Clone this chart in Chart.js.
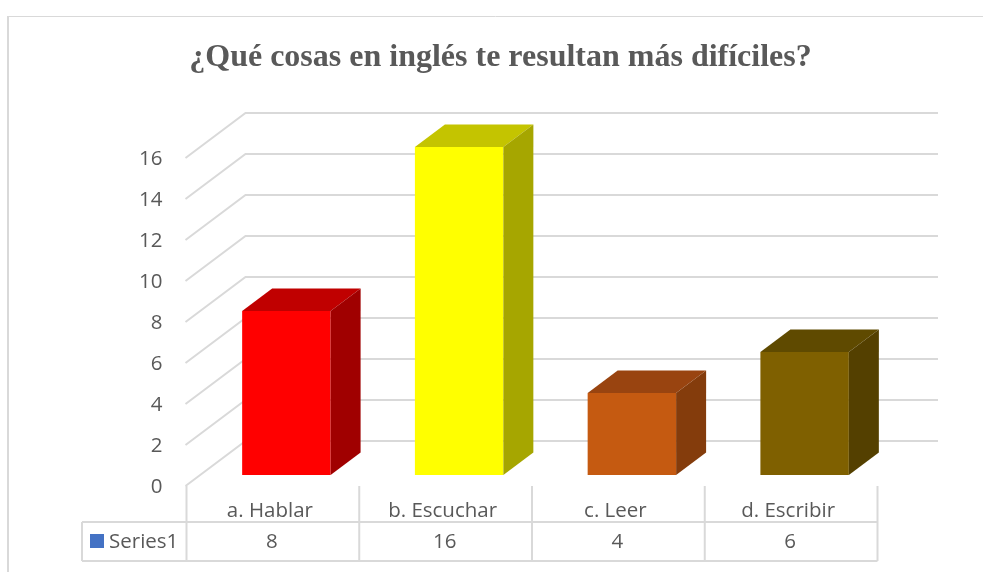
<!DOCTYPE html>
<html lang="es">
<head>
<meta charset="utf-8">
<title>¿Qué cosas en inglés te resultan más difíciles?</title>
<script src="https://cdn.jsdelivr.net/npm/chart.js@4"></script>
<style>
    html, body { margin: 0; padding: 0; background: #fff; }
    canvas { display: block; }
</style>
</head>
<body>
<canvas id="myChart" width="983" height="572"></canvas>
<script>
    /* datos */
    const titleText = '¿Qué cosas en inglés te resultan más difíciles?';
    const categories = ['a. Hablar', 'b. Escuchar', 'c. Leer', 'd. Escribir'];
    const seriesName = 'Series1';
    const seriesValues = [8, 16, 4, 6];
    const tickStep = 2;
    const tickMax = 16;

    /* colores de cada barra: frente, tapa, lado */
    const frontColors = ['#ff0000', '#ffff00', '#c55a11', '#7f6000'];
    const topColors = ['#c00000', '#c4c400', '#994410', '#5f4a00'];
    const sideColors = ['#a00000', '#a6a600', '#843c0c', '#544000'];

    const gridColor = '#d9d9d9';
    const textColor = '#595959';
    const uiFont = '"Open Sans", sans-serif';

    /* falso 3D */
    const wallDx = 59, wallDy = -45;    // fondo de la pared
    const barDx = 13.5, barDy = -11;    // barra dentro del piso
    const barDepthX = 30, barDepthY = -22.4;
    const gridRight = 938;

    const wallPlugin = {
        id: 'wallPlugin',
        beforeDatasetsDraw(chart) {
            const ctx = chart.ctx, y = chart.scales.y;
            ctx.save();
            ctx.strokeStyle = gridColor;
            ctx.lineWidth = 2;
            y.ticks.forEach(t => {
                const py = y.getPixelForValue(t.value);
                ctx.beginPath();
                ctx.moveTo(y.right - 1, py);
                ctx.lineTo(y.right + wallDx, py + wallDy);
                ctx.lineTo(gridRight, py + wallDy);
                ctx.stroke();
            });
            ctx.restore();
        }
    };

    const box3dPlugin = {
        id: 'box3dPlugin',
        beforeDatasetDraw(chart) {
            chart.ctx.save();
            chart.ctx.translate(barDx, barDy);
        },
        afterDatasetDraw(chart, args) {
            const ctx = chart.ctx;
            args.meta.data.forEach((bar, i) => {
                const left = bar.x - bar.width / 2, right = bar.x + bar.width / 2;
                // tapa
                ctx.fillStyle = topColors[i];
                ctx.beginPath();
                ctx.moveTo(left, bar.y);
                ctx.lineTo(left + barDepthX, bar.y + barDepthY);
                ctx.lineTo(right + barDepthX, bar.y + barDepthY);
                ctx.lineTo(right, bar.y);
                ctx.closePath();
                ctx.fill();
                // lado
                ctx.fillStyle = sideColors[i];
                ctx.beginPath();
                ctx.moveTo(right, bar.y);
                ctx.lineTo(right + barDepthX, bar.y + barDepthY);
                ctx.lineTo(right + barDepthX, bar.base + barDepthY);
                ctx.lineTo(right, bar.base);
                ctx.closePath();
                ctx.fill();
            });
            ctx.restore();
        }
    };

    /* tabla de datos debajo del eje, y marco del gráfico */
    const tablePlugin = {
        id: 'tablePlugin',
        afterDraw(chart) {
            const ctx = chart.ctx, x = chart.scales.x;
            const tableTop = 522, tableBottom = 561, tableLeft = 82;
            const band = (x.right - x.left) / categories.length;
            ctx.save();
            ctx.strokeStyle = gridColor;

            // marco
            ctx.lineWidth = 2;
            ctx.beginPath();
            ctx.moveTo(8, 572);
            ctx.lineTo(8, 16);
            ctx.stroke();
            ctx.lineWidth = 1;
            ctx.beginPath();
            ctx.moveTo(8, 16.5);
            ctx.lineTo(983, 16.5);
            ctx.stroke();

            ctx.lineWidth = 2;
            ctx.beginPath();
            ctx.moveTo(tableLeft, tableTop);
            ctx.lineTo(x.right, tableTop);
            ctx.moveTo(tableLeft, tableBottom);
            ctx.lineTo(x.right, tableBottom);
            ctx.moveTo(tableLeft, tableTop);
            ctx.lineTo(tableLeft, tableBottom);
            for (let i = 0; i <= categories.length; i++) {
                ctx.moveTo(x.left + band * i, x.top);
                ctx.lineTo(x.left + band * i, tableBottom);
            }
            ctx.stroke();

            // leyenda
            ctx.fillStyle = '#4472c4';
            ctx.fillRect(90, 534, 14, 14);
            ctx.fillStyle = textColor;
            ctx.font = '20.5px ' + uiFont;
            ctx.textBaseline = 'middle';
            ctx.textAlign = 'left';
            ctx.fillText(seriesName, 109, 542);

            // valores
            ctx.textAlign = 'center';
            seriesValues.forEach((v, i) => {
                ctx.fillText(String(v), x.getPixelForTick(i) - 1, 542);
            });
            ctx.restore();
        }
    };

    new Chart(document.getElementById('myChart').getContext('2d'), {
        type: 'bar',
        data: {
            labels: categories,
            datasets: [{
                label: seriesName,
                data: seriesValues,
                backgroundColor: frontColors,
                borderWidth: 0,
                barPercentage: 1,
                categoryPercentage: 0.512,
                clip: false
            }]
        },
        plugins: [wallPlugin, box3dPlugin, tablePlugin],
        options: {
            responsive: false,
            animation: false,
            layout: {
                autoPadding: false,
                padding: { left: 123.5, right: 105.5, top: 0, bottom: 0 }
            },
            scales: {
                x: {
                    afterFit: s => { s.height = 86; },
                    grid: { display: false },
                    border: { display: false },
                    ticks: {
                        color: textColor,
                        font: { family: uiFont, size: 20.5 },
                        padding: 5,
                        labelOffset: -3,
                        maxRotation: 0
                    }
                },
                y: {
                    min: 0,
                    max: tickMax,
                    afterFit: s => { s.width = 63; },
                    grid: { display: false },
                    border: { display: false },
                    ticks: {
                        stepSize: tickStep,
                        color: textColor,
                        font: { family: uiFont, size: 20.5 },
                        padding: 16,
                        labelOffset: 1
                    }
                }
            },
            plugins: {
                legend: { display: false },
                tooltip: { enabled: false },
                title: {
                    display: true,
                    text: titleText,
                    color: textColor,
                    font: { family: '"Liberation Serif", serif', size: 32, weight: 'bold', lineHeight: 1.2 },
                    padding: { top: 39, bottom: 80.6 }
                }
            }
        }
    });
</script>
</body>
</html>
